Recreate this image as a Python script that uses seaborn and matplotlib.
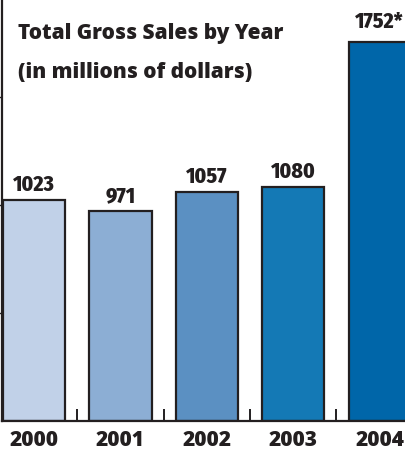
import matplotlib
matplotlib.use("Agg")
import matplotlib.pyplot as plt
import seaborn as sns
import pandas as pd

# Chart data
years = ["2000", "2001", "2002", "2003", "2004"]
sales = [1023, 971, 1057, 1080, 1752]
value_labels = ["1023", "971", "1057", "1080", "1752*"]
bar_colors = ["#c1d1e8", "#8caed4", "#5b90c2", "#1479b5", "#0066a9"]
y_ticks = [500, 1000, 1500]

sns.set_theme(style="white")
plt.rcParams["font.family"] = ["Open Sans", "DejaVu Sans"]
label_family = ["Fira Sans Condensed", "DejaVu Sans"]

ink = "#231f20"
W, H = 405, 452
PT = 72 / 100  # points per pixel at 100 dpi
fig = plt.figure(figsize=(W / 100, H / 100), dpi=100)

# axes run past the right edge so the last bar is cut off by the frame
ax = fig.add_axes([2 / W, 30 / H, 433 / W, 422 / H])

df = pd.DataFrame({"year": years, "sales": sales})
sns.barplot(data=df, x="year", y="sales", hue="year", palette=bar_colors,
            width=0.72, edgecolor=ink, linewidth=1.6, legend=False,
            saturation=1, ax=ax)

ax.set_xlim(-0.37, 4.64)
ax.set_ylim(0, 1951)
ax.set_xlabel("")
ax.set_ylabel("")

for s in ["top", "right"]:
    ax.spines[s].set_visible(False)
for s in ["left", "bottom"]:
    ax.spines[s].set_color(ink)
    ax.spines[s].set_linewidth(1.6)

# y ticks: short outward marks, no labels
ax.set_yticks(y_ticks)
ax.set_yticklabels([])
ax.tick_params(axis="y", which="major", direction="out", length=3,
               width=1, color=ink, left=True)

# x: year labels under bars, inward separator ticks between bars
ax.set_xticks(range(len(years)))
ax.set_xticklabels(years, fontsize=15, fontweight=800, color=ink,
                   va="baseline")
ax.tick_params(axis="x", which="major", length=0, pad=24.5 * PT)
ax.set_xticks([i + 0.5 for i in range(len(years) - 1)], minor=True)
ax.tick_params(axis="x", which="minor", direction="in", length=9,
               width=1.4, color=ink, bottom=True)

# value labels above bars, in a condensed bold face
for i, (v, lab) in enumerate(zip(sales, value_labels)):
    gap = 15 if lab.endswith("*") else 10
    ax.annotate(lab, (i, v), xytext=(0, gap * PT), textcoords="offset points",
                ha="center", va="baseline", fontsize=15.5, fontweight=800,
                color=ink, family=label_family)

fig.text(18 / W, 1 - 39.5 / H, "Total Gross Sales by Year", ha="left",
         va="baseline", fontsize=15, fontweight=800, color=ink)
fig.text(18 / W, 1 - 77.5 / H, "(in millions of dollars)", ha="left",
         va="baseline", fontsize=15, fontweight=800, color=ink)

fig.savefig("out.png", dpi=100)
